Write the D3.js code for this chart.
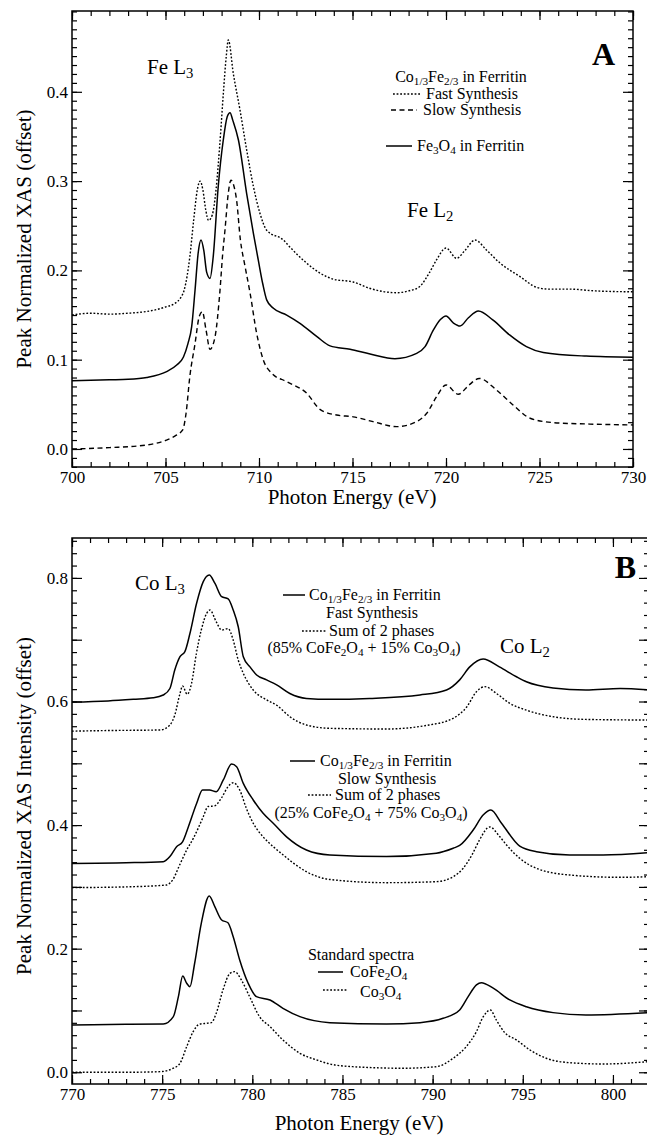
<!DOCTYPE html>
<html>
<head>
<meta charset="utf-8">
<script src="https://cdn.jsdelivr.net/npm/d3@7"></script>
<style>
  body { margin: 0; background: #fff; }
  svg { display: block; }
</style>
</head>
<body>
<div id="chart"></div>
<script>
// ---- data: [photon energy (eV), peak normalized XAS] ----
var feFast = [[700,0.150],[701,0.152],[702,0.151],[703,0.152],[704,0.154],[704.5,0.156],[705,0.159],[705.5,0.163],[705.8,0.169],[706.0,0.178],[706.3,0.215],[706.5,0.255],[706.7,0.290],[706.85,0.300],[707.0,0.290],[707.15,0.268],[707.3,0.256],[707.5,0.262],[707.7,0.29],[707.9,0.34],[708.1,0.40],[708.25,0.44],[708.36,0.458],[708.63,0.42],[708.98,0.38],[709.34,0.335],[709.7,0.294],[710.05,0.264],[710.41,0.245],[711.3,0.234],[711.66,0.226],[712.5,0.209],[713.26,0.197],[714.0,0.19],[715.04,0.187],[715.9,0.180],[717.36,0.175],[718.0,0.177],[718.6,0.182],[719.1,0.197],[719.5,0.212],[720.0,0.225],[720.57,0.2135],[721.0,0.222],[721.55,0.234],[722.2,0.222],[722.9,0.208],[723.96,0.193],[724.85,0.181],[725.5,0.179],[726.6,0.179],[728,0.177],[730,0.176]];
var feMagnetite = [[700,0.0765],[701,0.077],[702,0.0775],[703,0.078],[704,0.080],[705.06,0.0866],[705.6,0.094],[705.96,0.103],[706.2,0.118],[706.4,0.137],[706.58,0.178],[706.75,0.22],[706.9,0.234],[707.05,0.222],[707.2,0.198],[707.38,0.191],[707.55,0.215],[707.82,0.294],[708.09,0.346],[708.3,0.372],[708.45,0.3766],[708.6,0.368],[708.9,0.346],[709.34,0.286],[709.7,0.2415],[709.96,0.2117],[710.2,0.185],[710.41,0.167],[710.77,0.1575],[711.48,0.150],[712.19,0.1407],[713.1,0.1258],[713.8,0.1155],[714.87,0.1116],[715.94,0.1064],[717.27,0.1011],[718.43,0.107],[718.88,0.1146],[719.32,0.133],[719.7,0.145],[720.0,0.149],[720.4,0.141],[720.75,0.1377],[721.2,0.147],[721.73,0.1545],[722.5,0.1445],[723.4,0.1277],[724.3,0.1146],[725.2,0.108],[727.5,0.104],[730,0.1027]];
var feSlow = [[700,0.0],[702,0.0015],[704,0.0045],[705.06,0.010],[705.6,0.0157],[705.92,0.0213],[706.1,0.04],[706.3,0.081],[706.58,0.118],[706.8,0.148],[706.97,0.1538],[707.17,0.133],[707.38,0.1116],[707.65,0.1258],[707.9,0.174],[708.06,0.219],[708.18,0.245],[708.35,0.285],[708.5,0.301],[708.65,0.295],[708.8,0.279],[709.0,0.235],[709.25,0.205],[709.52,0.175],[709.87,0.13],[710.23,0.0997],[710.68,0.0848],[711.48,0.0754],[712.55,0.0624],[713.26,0.0444],[714.15,0.038],[715.04,0.036],[716.1,0.0306],[717.36,0.025],[718.43,0.0306],[718.97,0.040],[719.5,0.0586],[720.0,0.0717],[720.66,0.0612],[721.2,0.071],[721.78,0.079],[722.7,0.066],[723.6,0.049],[724.5,0.0344],[725.74,0.0295],[727.5,0.028],[730,0.0269]];

var coFast = [[770,0.599],[772,0.601],[773.4,0.6036],[774.5,0.606],[775.06,0.6105],[775.43,0.621],[775.7,0.651],[775.99,0.6725],[776.26,0.6806],[776.54,0.710],[776.91,0.759],[777.28,0.794],[777.61,0.8047],[777.93,0.791],[778.3,0.7696],[778.66,0.766],[778.94,0.748],[779.22,0.721],[779.5,0.6725],[779.87,0.656],[780.24,0.643],[780.79,0.635],[781.35,0.627],[782.08,0.613],[783.0,0.605],[784.3,0.6036],[786.5,0.605],[789.3,0.6105],[790.77,0.6186],[791.5,0.635],[792.06,0.656],[792.8,0.6688],[793.7,0.656],[794.65,0.640],[795.2,0.632],[796.68,0.622],[798.5,0.6186],[800.4,0.621],[802,0.6186]];
var coFastSum = [[770,0.552],[772,0.553],[774.9,0.554],[775.43,0.562],[775.7,0.578],[775.99,0.613],[776.13,0.625],[776.39,0.6117],[776.63,0.6294],[776.9,0.678],[777.17,0.7157],[777.47,0.7427],[777.65,0.748],[778.0,0.729],[778.3,0.7157],[778.66,0.718],[778.94,0.6995],[779.22,0.667],[779.5,0.6456],[780.05,0.6186],[780.8,0.6025],[781.35,0.594],[782.08,0.5754],[783.0,0.562],[784.3,0.5566],[787.44,0.5555],[789.8,0.562],[791.14,0.5728],[791.9,0.5916],[792.43,0.6159],[792.9,0.624],[793.54,0.613],[794.28,0.597],[795.2,0.586],[796.68,0.5754],[798.5,0.571],[802,0.570]];
var coSlow = [[770,0.338],[773,0.339],[775.06,0.3408],[775.43,0.349],[775.8,0.365],[776.13,0.373],[776.45,0.397],[776.91,0.435],[777.24,0.4568],[777.63,0.4568],[778.0,0.454],[778.39,0.473],[778.85,0.4989],[779.13,0.4945],[779.5,0.4676],[780.05,0.4406],[780.6,0.419],[781.16,0.403],[781.9,0.381],[783.0,0.3597],[784.3,0.3516],[787.44,0.349],[790.2,0.3544],[791.14,0.3625],[791.5,0.367],[792.25,0.392],[792.8,0.4163],[793.23,0.4244],[793.82,0.403],[794.83,0.366],[795.76,0.357],[797.6,0.3516],[799.45,0.3516],[802,0.3554]];
var coSlowSum = [[770,0.2988],[773,0.300],[775.23,0.303],[775.6,0.312],[775.97,0.3355],[776.36,0.3597],[776.72,0.378],[777.0,0.395],[777.28,0.4136],[777.55,0.43],[777.9,0.431],[778.28,0.4434],[778.65,0.462],[778.94,0.4686],[779.3,0.4568],[779.67,0.427],[780.05,0.403],[780.6,0.381],[781.16,0.365],[781.7,0.352],[782.3,0.338],[783.0,0.3246],[784.3,0.312],[787.44,0.3068],[790.2,0.3084],[791.14,0.3165],[791.69,0.33],[792.23,0.3544],[792.6,0.376],[793.17,0.397],[793.73,0.381],[794.1,0.3678],[794.83,0.3463],[795.76,0.33],[797.6,0.3192],[800.36,0.3155],[802,0.3165]];
var coFerrite = [[770,0.0765],[773,0.0775],[775.06,0.078],[775.62,0.090],[775.9,0.1223],[776.14,0.1558],[776.36,0.144],[776.54,0.1385],[776.8,0.176],[777.17,0.241],[777.61,0.2853],[777.92,0.268],[778.3,0.2464],[778.65,0.242],[778.94,0.2194],[779.3,0.1817],[779.77,0.144],[780.23,0.1223],[780.98,0.117],[781.7,0.1035],[782.64,0.090],[784.3,0.0803],[787.44,0.078],[789.3,0.0803],[790.58,0.0873],[791.5,0.1008],[791.97,0.1223],[792.43,0.1413],[792.7,0.145],[793.36,0.136],[794.28,0.117],[795.2,0.106],[796.68,0.0965],[798.5,0.0927],[802,0.0965]];
var coOxide = [[770,0.0],[773,0.0],[774.9,0.001],[775.62,0.0065],[775.99,0.0146],[776.36,0.0414],[776.72,0.0657],[777.06,0.0777],[777.47,0.0793],[777.73,0.0803],[778.0,0.0955],[778.37,0.133],[778.76,0.160],[779.02,0.1628],[779.4,0.149],[779.85,0.1223],[780.4,0.090],[780.98,0.0738],[781.7,0.0523],[782.64,0.0307],[783.56,0.020],[784.3,0.0134],[785.6,0.009],[788.37,0.0065],[790.2,0.009],[791.14,0.0227],[791.86,0.0414],[792.43,0.0657],[792.8,0.0895],[793.2,0.1008],[793.53,0.0846],[794.0,0.064],[794.65,0.0523],[795.4,0.036],[796.3,0.0227],[797.6,0.0155],[799.45,0.0134],[802,0.0172]];

var SERIF = "Liberation Serif";
var DOT = "1.8,1.8", DASH = "5,3.5";

var svg = d3.select("#chart").append("svg")
  .attr("width", 647).attr("height", 1136);

// frame with inward ticks on all four sides
function drawFrame(x, y, xMajor, yMajorStep, yMinorStep, yLabelStep) {
  var xr = x.range(), yr = y.range();
  var xd = x.domain(), yd = y.domain();
  var xMinor = d3.range(Math.ceil(xd[0]), xd[1] + 1e-9, 1);
  var xMaj = d3.range(Math.ceil(xd[0] / xMajor) * xMajor, xd[1] + 1e-9, xMajor);
  var yMinor = d3.range(Math.ceil(yd[0] / yMinorStep) * yMinorStep, yd[1] + 1e-9, yMinorStep);
  var yMaj = d3.range(Math.ceil(yd[0] / yMajorStep - 1e-6) * yMajorStep, yd[1] + 1e-9, yMajorStep);

  function clean(s) {
    s.attr("font-family", null).attr("font-size", null);
    s.select(".domain").remove();
    s.selectAll("line").attr("stroke", "#000").attr("stroke-width", 1.2);
    s.selectAll("text").attr("font-size", 17).attr("fill", "#000");
  }
  var fmtY = function(d) {
    var r = Math.round(d / yLabelStep * 1000) / 1000;
    return Math.abs(r - Math.round(r)) < 1e-6 ? d3.format(".1f")(d) : "";
  };

  svg.append("g").attr("transform", "translate(0," + yr[0] + ")")
    .call(d3.axisBottom(x).tickValues(xMinor).tickSize(-5).tickFormat("")).call(clean);
  svg.append("g").attr("transform", "translate(0," + yr[0] + ")")
    .call(d3.axisBottom(x).tickValues(xMaj).tickSize(-9).tickPadding(4).tickFormat(d3.format("d"))).call(clean);
  svg.append("g").attr("transform", "translate(0," + yr[1] + ")")
    .call(d3.axisTop(x).tickValues(xMinor).tickSize(-5).tickFormat("")).call(clean);
  svg.append("g").attr("transform", "translate(0," + yr[1] + ")")
    .call(d3.axisTop(x).tickValues(xMaj).tickSize(-9).tickFormat("")).call(clean);

  svg.append("g").attr("transform", "translate(" + xr[0] + ",0)")
    .call(d3.axisLeft(y).tickValues(yMinor).tickSize(-5).tickFormat("")).call(clean);
  svg.append("g").attr("transform", "translate(" + xr[0] + ",0)")
    .call(d3.axisLeft(y).tickValues(yMaj).tickSize(-10).tickPadding(4).tickFormat(fmtY)).call(clean);
  svg.append("g").attr("transform", "translate(" + xr[1] + ",0)")
    .call(d3.axisRight(y).tickValues(yMinor).tickSize(-5).tickFormat("")).call(clean);
  svg.append("g").attr("transform", "translate(" + xr[1] + ",0)")
    .call(d3.axisRight(y).tickValues(yMaj).tickSize(-10).tickFormat("")).call(clean);

  svg.append("rect")
    .attr("x", xr[0]).attr("y", yr[1])
    .attr("width", xr[1] - xr[0]).attr("height", yr[0] - yr[1])
    .attr("fill", "none").attr("stroke", "#000").attr("stroke-width", 1.5);
}

function curve(x, y, data, dash) {
  var line = d3.line().x(function(d) { return x(d[0]); }).y(function(d) { return y(d[1]); })
    .curve(d3.curveMonotoneX);
  svg.append("path").datum(data)
    .attr("d", line)
    .attr("fill", "none").attr("stroke", "#000")
    .attr("stroke-width", dash ? 1.4 : 1.5)
    .attr("stroke-dasharray", dash || null);
}

// text with subscripts: parts = [[text, isSub], ...]
function rich(x0, y0, parts, size, anchor) {
  var t = svg.append("text").attr("x", x0).attr("y", y0)
    .attr("font-size", size).attr("text-anchor", anchor || "start");
  parts.forEach(function(p, i) {
    var s = t.append("tspan").text(p[0]);
    var prevSub = i > 0 && parts[i - 1][1];
    if (p[1]) s.attr("font-size", size * 0.7).attr("dy", prevSub ? 0 : size * 0.2);
    else if (prevSub) s.attr("dy", -size * 0.2);
  });
  return t;
}

function label(x0, y0, txt, size, anchor) {
  return svg.append("text").attr("x", x0).attr("y", y0)
    .attr("font-size", size).attr("text-anchor", anchor || "start").text(txt);
}

function sample(x1, x2, yy, dash) {
  svg.append("line").attr("x1", x1).attr("x2", x2).attr("y1", yy).attr("y2", yy)
    .attr("stroke", "#000").attr("stroke-width", dash ? 1.3 : 1.5)
    .attr("stroke-dasharray", dash || null);
}

// ---------- Panel A ----------
var xA = d3.scaleLinear().domain([700, 730]).range([72, 633]);
var yA = d3.scaleLinear().domain([-0.0202, 0.4905]).range([467, 11]);
drawFrame(xA, yA, 5, 0.1, 0.01, 0.1);
curve(xA, yA, feFast, DOT);
curve(xA, yA, feMagnetite, null);
curve(xA, yA, feSlow, DASH);

label(352, 504, "Photon Energy (eV)", 21, "middle");
svg.append("text").attr("transform", "translate(31,239) rotate(-90)").attr("text-anchor", "middle")
  .attr("font-size", 21).text("Peak Normalized XAS (offset)");
label(615, 65, "A", 32, "end").attr("font-weight", "bold");

rich(147, 74, [["Fe L"], ["3", true]], 21);
rich(407, 217, [["Fe L"], ["2", true]], 21);

rich(461, 82, [["Co"], ["1/3", true], ["Fe"], ["2/3", true], [" in Ferritin"]], 16, "middle");
sample(393, 421, 94, DOT);
label(426, 99, "Fast Synthesis", 16);
sample(391, 417, 110, DASH);
label(423, 115, "Slow Synthesis", 16);
sample(386, 412, 146, null);
rich(417, 151, [["Fe"], ["3", true], ["O"], ["4", true], [" in Ferritin"]], 16);

// ---------- Panel B ----------
var xB = d3.scaleLinear().domain([770, 802]).range([72, 649]);
var yB = d3.scaleLinear().domain([-0.019, 0.8646]).range([1084, 538]);
drawFrame(xB, yB, 5, 0.1, 0.02, 0.2);
curve(xB, yB, coFast, null);
curve(xB, yB, coFastSum, DOT);
curve(xB, yB, coSlow, null);
curve(xB, yB, coSlowSum, DOT);
curve(xB, yB, coFerrite, null);
curve(xB, yB, coOxide, DOT);

label(359, 1130, "Photon Energy (eV)", 21, "middle");
svg.append("text").attr("transform", "translate(31,806) rotate(-90)").attr("text-anchor", "middle")
  .attr("font-size", 21).text("Peak Normalized XAS Intensity (offset)");
label(636, 578, "B", 32, "end").attr("font-weight", "bold");

rich(135, 590, [["Co L"], ["3", true]], 21);
rich(500, 653, [["Co L"], ["2", true]], 21);

sample(283, 305, 595, null);
rich(309, 600, [["Co"], ["1/3", true], ["Fe"], ["2/3", true], [" in Ferritin"]], 16);
label(372, 618, "Fast Synthesis", 16, "middle");
sample(302, 326, 631, DOT);
label(329, 636, "Sum of 2 phases", 16);
rich(364, 653, [["(85% CoFe"], ["2", true], ["O"], ["4", true], [" + 15% Co"], ["3", true], ["O"], ["4", true], [")"]], 16, "middle");

sample(290, 315, 761, null);
rich(320, 766, [["Co"], ["1/3", true], ["Fe"], ["2/3", true], [" in Ferritin"]], 16);
label(387, 784, "Slow Synthesis", 16, "middle");
sample(308, 331, 795, DOT);
label(335, 800, "Sum of 2 phases", 16);
rich(371, 818, [["(25% CoFe"], ["2", true], ["O"], ["4", true], [" + 75% Co"], ["3", true], ["O"], ["4", true], [")"]], 16, "middle");

label(361, 960, "Standard spectra", 16, "middle");
sample(318, 343, 972, null);
rich(350, 977, [["CoFe"], ["2", true], ["O"], ["4", true]], 16);
sample(323, 348, 990, DOT);
rich(360, 997, [["Co"], ["3", true], ["O"], ["4", true]], 16);

// serif face for every text, set inline so it wins over axis defaults
svg.selectAll("text").style("font-family", SERIF).attr("fill", "#000");
</script>
</body>
</html>
